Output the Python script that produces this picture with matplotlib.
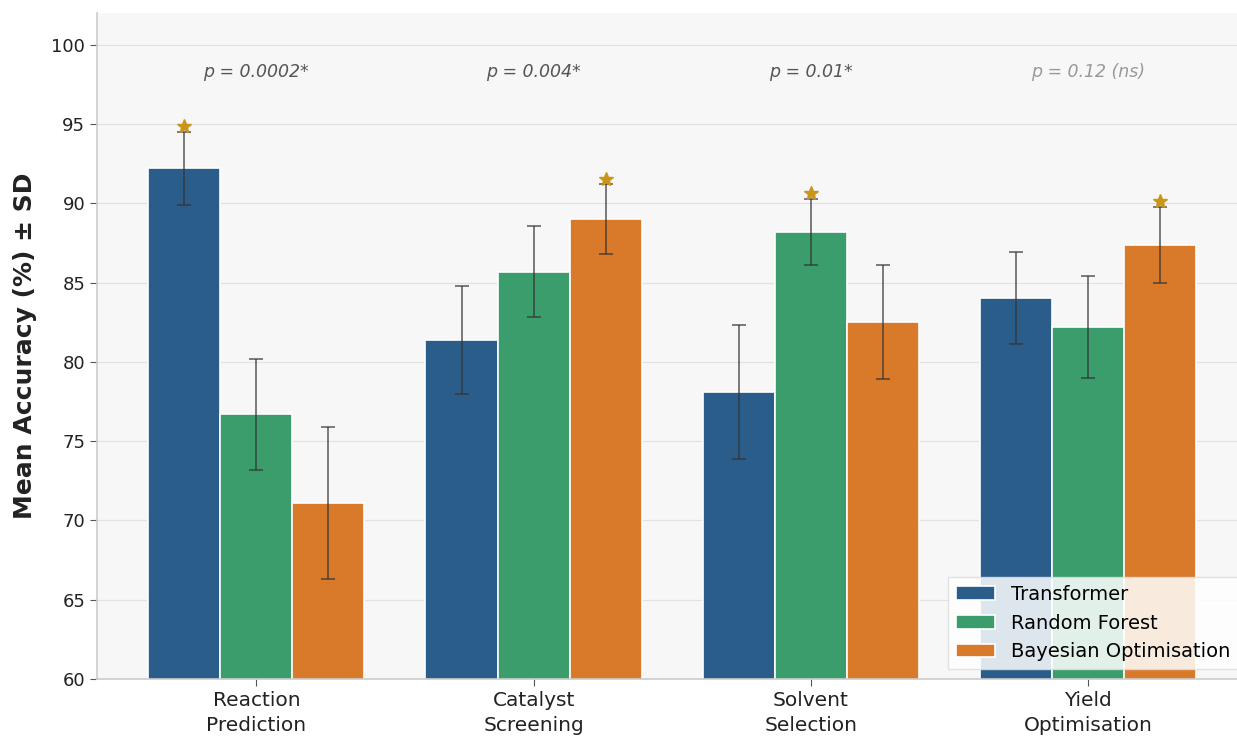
import matplotlib
matplotlib.use("Agg")
import matplotlib.pyplot as plt
import numpy as np

tasks = ["Reaction\nPrediction", "Catalyst\nScreening", "Solvent\nSelection", "Yield\nOptimisation"]
models = ["Transformer", "Random Forest", "Bayesian Optimisation"]
transformer_mean = [92.2, 81.4, 78.1, 84.0]
transformer_sd = [2.3, 3.4, 4.2, 2.9]
rf_mean = [76.7, 85.7, 88.2, 82.2]
rf_sd = [3.5, 2.9, 2.1, 3.2]
bo_mean = [71.1, 89.0, 82.5, 87.4]
bo_sd = [4.8, 2.2, 3.6, 2.4]
p_labels = ["p = 0.0002*", "p = 0.004*", "p = 0.01*", "p = 0.12 (ns)"]
p_significant = [True, True, True, False]

means = [transformer_mean, rf_mean, bo_mean]
sds = [transformer_sd, rf_sd, bo_sd]
colors = ["#2b5d8b", "#3a9d6b", "#d97a2b"]

fig = plt.figure(figsize=(12.37, 7.44), dpi=100)
ax = fig.add_axes([0.0784, 0.0874, 0.930, 0.895])
ax.set_facecolor("#f7f7f7")

x = np.arange(len(tasks))
width = 0.26
for i, (m, s, c, name) in enumerate(zip(means, sds, colors, models)):
    pos = x + (i - 1) * width
    ax.bar(pos, m, width, color=c, edgecolor="white", linewidth=1.2, label=name, zorder=2)
    ax.errorbar(pos, m, yerr=s, fmt="none", ecolor="#333333", elinewidth=1.2,
                capsize=5, capthick=1.2, alpha=0.75, zorder=3)

# stars on best model per task
all_means = np.array(means)
all_sds = np.array(sds)
for j in range(len(tasks)):
    b = int(np.argmax(all_means[:, j]))
    ax.plot(x[j] + (b - 1) * width, all_means[b, j] + all_sds[b, j] + 0.35, marker="*",
            color="#c9961a", markersize=10, zorder=4, linestyle="none")

for j, (lab, sig) in enumerate(zip(p_labels, p_significant)):
    ax.text(x[j], 98.3, lab, ha="center", va="center", fontsize=12.5, style="italic",
            color="#555555" if sig else "#999999")

ax.set_xlim(-0.575, 3.575)
ax.set_ylim(60, 102)
ax.set_yticks([60, 65, 70, 75, 80, 85, 90, 95, 100])
ax.set_xticks(x)
ax.set_xticklabels(tasks, fontsize=14.5, color="#222222", linespacing=1.4)
ax.tick_params(axis="y", labelsize=13, colors="#222222")
ax.tick_params(axis="both", color="#555555", length=5)
ax.set_ylabel("Mean Accuracy (%) ± SD", fontsize=18, fontweight="bold", color="#222222",
              labelpad=10)
ax.yaxis.grid(True, color="#e2e2e2", linewidth=0.9, zorder=0)
ax.set_axisbelow(True)
for sp in ["top", "right"]:
    ax.spines[sp].set_visible(False)
for sp in ["left", "bottom"]:
    ax.spines[sp].set_color("#cccccc")
    ax.spines[sp].set_linewidth(1.2)

leg = ax.legend(loc="lower right", fontsize=14, frameon=True, fancybox=False)
leg.get_frame().set_facecolor("white")
leg.get_frame().set_alpha(0.85)
leg.get_frame().set_edgecolor("#dddddd")

fig.savefig("out.png", dpi=100)
